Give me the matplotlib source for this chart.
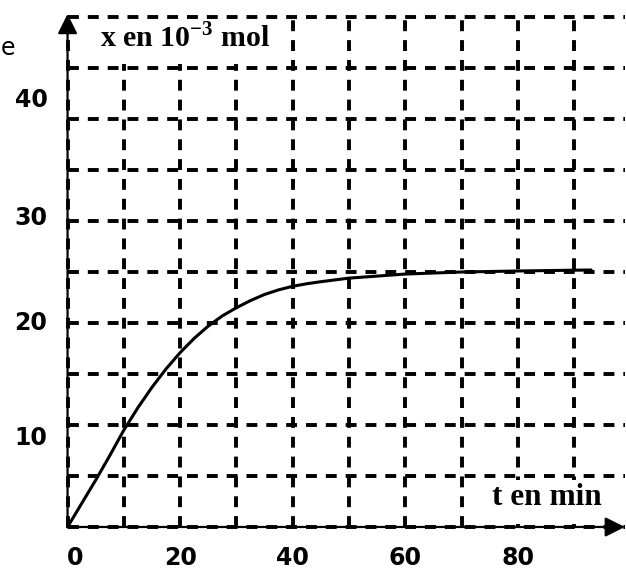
import numpy as np
import matplotlib
matplotlib.use("Agg")
import matplotlib.pyplot as plt
from matplotlib.patches import Rectangle

plt.rcParams['mathtext.fontset'] = 'custom'
plt.rcParams['mathtext.rm'] = 'Liberation Serif:bold'
plt.rcParams['mathtext.bf'] = 'Liberation Serif:bold'

# ---- data ----
t_data = [0, 2.5, 5, 7.5, 10, 12.5, 15, 17.5, 20, 22.5, 25, 27.5, 30, 32.5, 35, 37.5, 40,
          42.5, 45, 50, 55, 60, 65, 70, 80, 93]
x_data = [0, 2.3, 4.6, 7.0, 9.5, 11.7, 13.7, 15.5, 17.1, 18.5, 19.7, 20.7, 21.5, 22.2, 22.8,
          23.25, 23.6, 23.85, 24.05, 24.4, 24.6, 24.8, 24.9, 25.0, 25.1, 25.2]

t_grid = [0, 10, 20, 30, 40, 50, 60, 70, 80, 90]
x_grid = [0, 5, 10, 15, 20, 25, 30, 35, 40, 45, 50]
t_ticks = [0, 20, 40, 60, 80]
t_ticklabels = ["0", "20", "40", "60", "80"]
x_ticks = [10, 20, 30, 40]
x_ticklabels = ["10", "20", "30", "40"]

ylabel_text = r"x en 10$^{\mathbf{-3}}$ mol"
xlabel_text = "t en min"

# ---- layout / style ----
ytick_offsets = [-1.3, 0.0, 0.3, 1.9]   # label shift in data units (layout)
grid_kw = dict(colors='black', linewidths=2.8, linestyles=[(0, (2.8, 2.3))], zorder=1)

fig = plt.figure(figsize=(6.26, 5.69), dpi=100)
ax = fig.add_axes([0, 0, 1, 1])
ax.set_xlim(-12, 99.2)
ax.set_ylim(-4.12, 51.67)
ax.axis('off')

# grid
ax.vlines(t_grid, 0, max(x_grid), **grid_kw)
ax.hlines(x_grid, 0, 99, **grid_kw)

# white boxes behind labels
ax.add_patch(Rectangle((0.45, 45.4), 38.85, 4.3, facecolor='white', edgecolor='none', zorder=2))
ax.add_patch(Rectangle((71.5, 0.3), 27.7, 4.3, facecolor='white', edgecolor='none', zorder=2))

# curve
ax.plot(t_data, x_data, color='black', lw=2.2, zorder=3, solid_capstyle='round',
        solid_joinstyle='round')

# axes with arrows
arrow_kw = dict(arrowstyle='-|>,head_length=0.6,head_width=0.3', lw=1.6, color='black',
                mutation_scale=20, shrinkA=0, shrinkB=0)
ax.annotate('', xy=(99, 0), xytext=(0, 0), arrowprops=arrow_kw, zorder=4)
ax.annotate('', xy=(0, 50.3), xytext=(0, 0), arrowprops=arrow_kw, zorder=4)

# tick labels
for t, lab in zip(t_ticks, t_ticklabels):
    ax.text(t + (1.3 if t == 0 else 0), -3.0, lab, ha='center', va='center',
            fontsize=17, fontweight='bold', family='DejaVu Sans', zorder=5)
for v, lab, off in zip(x_ticks, x_ticklabels, ytick_offsets):
    ax.text(-6.5, v + off, lab, ha='center', va='center',
            fontsize=17, fontweight='bold', family='DejaVu Sans', zorder=5)

# axis labels
ax.text(5.8, 47.05, ylabel_text, ha='left', va='baseline', fontsize=21.5,
        fontweight='bold', family='Liberation Serif', zorder=5)
ax.text(75.4, 2.16, xlabel_text, ha='left', va='baseline', fontsize=22.5,
        fontweight='bold', family='Liberation Serif', zorder=5)

# letter at top-left edge
ax.text(-11.95, 47.0, "e", ha='left', va='center', fontsize=17, family='DejaVu Sans', zorder=5)

fig.savefig("out.png", dpi=100)
